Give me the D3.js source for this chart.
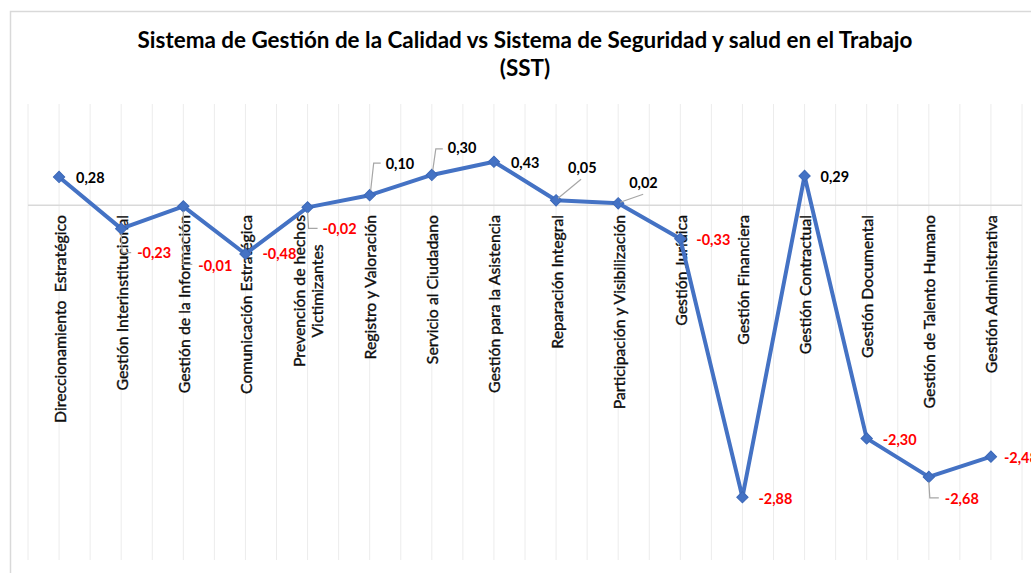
<!DOCTYPE html>
<html><head><meta charset="utf-8">
<script src="https://cdn.jsdelivr.net/npm/d3@7"></script>
<style>html,body{margin:0;padding:0;background:#fff;overflow:hidden}svg{display:block}text{white-space:pre}</style>
</head><body>
<svg id="chart" width="1031" height="573"></svg>
<script>
// ---- data ----
const categories = [
  "Direccionamiento  Estratégico",
  "Gestión Interinstitucional",
  "Gestión de la Información",
  "Comunicación Estratégica",
  "Prevención de hechos\nVictimizantes",
  "Registro y Valoración",
  "Servicio al Ciudadano",
  "Gestión para la Asistencia",
  "Reparación Integral",
  "Participación y Visibilización",
  "Gestión Jurídica",
  "Gestión Financiera",
  "Gestión Contractual",
  "Gestión Documental",
  "Gestión de Talento Humano",
  "Gestión Administrativa"
];
const values = [0.28, -0.23, -0.01, -0.48, -0.02, 0.10, 0.30, 0.43, 0.05, 0.02, -0.33, -2.88, 0.29, -2.30, -2.68, -2.48];
const titleLines = ["Sistema de Gestión de la Calidad vs Sistema de Seguridad y salud en el Trabajo", "(SST)"];
const yDomain = [-3.5, 1];

// ---- layout ----
const W = 1031, H = 573;
const plot = {left: 28, right: 1022, top: 104, bottom: 560};
const FONT = "Lato, 'Open Sans', sans-serif";
const svg = d3.select("#chart");

const x = d3.scaleBand().domain(categories).range([plot.left, plot.right]).padding(0);
const bw = x.bandwidth();
const cx = c => x(c) + bw / 2;
const y = d3.scaleLinear().domain(yDomain).range([plot.bottom, plot.top]);
const loc = d3.formatLocale({decimal: ",", thousands: ".", grouping: [3], currency: ["", ""], minus: "-"});
const fmt = loc.format(".2f");

// chart border
svg.append("rect").attr("x", 10.5).attr("y", 11.5).attr("width", W + 20).attr("height", H + 20)
  .attr("fill", "#fff").attr("stroke", "#d9d9d9").attr("stroke-width", 1.5);

// vertical gridlines (at band edges and band centres)
const gridX = [];
categories.forEach(c => { gridX.push(x(c)); gridX.push(cx(c)); });
gridX.push(plot.right);
svg.append("g").selectAll("line").data(gridX).join("line")
  .attr("x1", d => d).attr("x2", d => d).attr("y1", plot.top).attr("y2", plot.bottom)
  .attr("stroke", "#ececec").attr("stroke-width", 1);

// zero axis line
svg.append("line").attr("x1", plot.left).attr("x2", plot.right)
  .attr("y1", y(0)).attr("y2", y(0)).attr("stroke", "#d9d9d9").attr("stroke-width", 1.5);

// helper to fit font size to a target width
function fitSize(text, weight, target) {
  const t = svg.append("text").attr("font-family", FONT).attr("font-weight", weight)
    .attr("font-size", 100).text(text);
  const w = t.node().getComputedTextLength();
  t.remove();
  return 100 * target / w;
}

// title
const titleSize = fitSize(titleLines[0], 700, 775);
svg.append("g").selectAll("text").data(titleLines).join("text")
  .attr("x", 525).attr("y", (d, i) => 48 + i * 28)
  .attr("text-anchor", "middle").attr("font-family", FONT).attr("font-weight", 700)
  .attr("font-size", titleSize).attr("fill", "#000").text(d => d);

// category labels (rotated)
const catSize = fitSize("Gestión Documental", 400, 143);
const catG = svg.append("g");
const labelTop = 215;
categories.forEach(c => {
  const lines = c.split("\n");
  const widths = lines.map(l => {
    const t = svg.append("text").attr("font-family", FONT).attr("font-size", catSize).text(l);
    const w = t.node().getComputedTextLength(); t.remove(); return w;
  });
  const maxW = d3.max(widths);
  const lh = 18;
  const n = lines.length;
  lines.forEach((l, i) => {
    const px = cx(c) + (i - (n - 1) / 2) * lh;
    const py = labelTop + maxW / 2;
    catG.append("text")
      .attr("transform", `translate(${px},${py}) rotate(-90)`)
      .attr("text-anchor", "middle").attr("dominant-baseline", "central")
      .attr("font-family", FONT).attr("font-size", catSize).attr("fill", "#0d0d0d")
      .attr("stroke", "#0d0d0d").attr("stroke-width", 0.35)
      .text(l);
  });
});

// line
const pts = categories.map((c, i) => [cx(c), y(values[i])]);
svg.append("path").datum(pts)
  .attr("d", d3.line())
  .attr("fill", "none").attr("stroke", "#4472c4").attr("stroke-width", 4)
  .attr("stroke-linejoin", "round");

// markers
svg.append("g").selectAll("path").data(pts).join("path")
  .attr("transform", d => `translate(${d[0]},${d[1]}) rotate(45)`)
  .attr("d", d3.symbol(d3.symbolSquare, 64)())
  .attr("fill", "#4472c4").attr("stroke", "#3c68b8").attr("stroke-width", 1);

// data label placement (offsets from point, and optional leader polyline)
const place = [
  {dx: 17, dy: 1},
  {dx: 16, dy: 24, lead: [[0, 5], [1, 24], [10, 24]]},
  {dx: 15, dy: 59, lead: [[0, 5], [0, 58], [9, 58]]},
  {dx: 17, dy: 0},
  {dx: 15, dy: 21, lead: [[0, 5], [1, 21], [10, 21]]},
  {dx: 16, dy: -32, lead: [[1, -5], [4, -32], [11, -32]]},
  {dx: 16, dy: -27, lead: [[1, -5], [4, -26], [11, -26]]},
  {dx: 17, dy: 1},
  {dx: 12, dy: -33, lead: [[2, -2], [25, -21]]},
  {dx: 11, dy: -21, lead: [[2, -1], [25, -9]]},
  {dx: 16, dy: 1},
  {dx: 16, dy: 1},
  {dx: 16, dy: 1},
  {dx: 16, dy: 1},
  {dx: 16, dy: 22, lead: [[0, 5], [1, 21], [10, 21]]},
  {dx: 13, dy: 1}
];
const lblSize = fitSize("-2,88", 700, 34);
const lblG = svg.append("g");
pts.forEach((p, i) => {
  const pl = place[i];
  if (pl.lead) {
    lblG.append("path")
      .attr("d", d3.line()(pl.lead.map(q => [p[0] + q[0], p[1] + q[1]])))
      .attr("fill", "none").attr("stroke", "#a6a6a6").attr("stroke-width", 1.2);
  }
  lblG.append("text")
    .attr("x", p[0] + pl.dx).attr("y", p[1] + pl.dy)
    .attr("dominant-baseline", "central")
    .attr("font-family", FONT).attr("font-weight", 700).attr("font-size", lblSize)
    .attr("fill", values[i] < 0 ? "#ff0000" : "#000")
    .text(fmt(values[i]));
});
</script>
</body></html>
